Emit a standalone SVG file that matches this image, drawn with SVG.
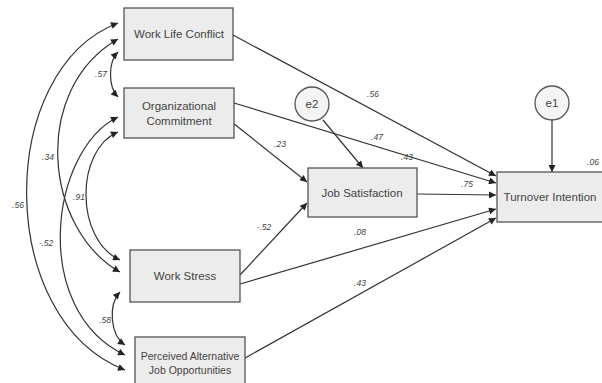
<svg xmlns="http://www.w3.org/2000/svg" width="602" height="383" viewBox="0 0 602 383">
<defs>
<marker id="ah" viewBox="0 0 10 10" refX="10" refY="5" markerWidth="10" markerHeight="7" markerUnits="userSpaceOnUse" orient="auto-start-reverse">
<path d="M0,0 L10,5 L0,10 z" fill="#222"/>
</marker>
<style>
.box{fill:#ececec;stroke:#555;stroke-width:1.3}
.err{fill:#f4f4f4;stroke:#555;stroke-width:1.3}
.t{font-family:"Liberation Sans",Arial,sans-serif;font-size:11.5px;fill:#444;text-anchor:middle}
.l{font-family:"Liberation Sans",Arial,sans-serif;font-size:8.5px;fill:#444;text-anchor:middle;font-style:italic}
.c{fill:none;stroke:#333;stroke-width:1.2}
.one{marker-end:url(#ah)}
.two{marker-start:url(#ah);marker-end:url(#ah)}
</style>
</defs>
<rect width="602" height="383" fill="#fff"/>
<g id="connectors">
<path class="c two" d="M118,52 C108,62 108,87 118,97"/>
<path class="c two" d="M118,23 C-5,70 -5,320 125,370"/>
<path class="c two" d="M118,39 C30,90 45,230 120,272"/>
<path class="c two" d="M118,117 C50,150 30,310 125,355"/>
<path class="c two" d="M118,132 C75,150 75,240 120,260"/>
<path class="c two" d="M120,292 C108,305 110,335 125,345"/>
<path class="c one" d="M233,35 L496,176"/>
<path class="c one" d="M234,103 L496,183"/>
<path class="c one" d="M233,123 L307,182"/>
<path class="c one" d="M240,275 L307,203"/>
<path class="c one" d="M417,194 L496,195"/>
<path class="c one" d="M240,284 L496,209"/>
<path class="c one" d="M245,358 L496,218"/>
<path class="c one" d="M323,120 L363,168"/>
<path class="c one" d="M552,120 L552,172"/>
<text class="l" x="101" y="77">.57</text>
<text class="l" x="48" y="160">.34</text>
<text class="l" x="18" y="208">.56</text>
<text class="l" x="79" y="200">.91</text>
<text class="l" x="46" y="246">-.52</text>
<text class="l" x="105" y="323">.58</text>
<text class="l" x="373" y="97">.56</text>
<text class="l" x="377" y="140">.47</text>
<text class="l" x="407" y="160">.43</text>
<text class="l" x="280" y="147">.23</text>
<text class="l" x="264" y="230">-.52</text>
<text class="l" x="467" y="187">.75</text>
<text class="l" x="360" y="235">.08</text>
<text class="l" x="360" y="286">.43</text>
<text class="l" x="593" y="165">.06</text>
</g>
<g id="wlc"><rect class="box" x="124" y="8" width="109" height="52"/><text class="t" x="179" y="38">Work Life Conflict</text></g>
<g id="oc"><rect class="box" x="124" y="88" width="110" height="50"/><text class="t" x="179" y="110">Organizational</text><text class="t" x="179" y="125">Commitment</text></g>
<g id="ws"><rect class="box" x="130" y="250" width="110" height="52"/><text class="t" x="185" y="280">Work Stress</text></g>
<g id="pajo"><rect class="box" x="135" y="337" width="110" height="49"/><text class="t" x="190" y="360" style="font-size:10.5px">Perceived Alternative</text><text class="t" x="190" y="374" style="font-size:10.5px">Job Opportunities</text></g>
<g id="js"><rect class="box" x="308" y="168" width="109" height="49"/><text class="t" x="362" y="197">Job Satisfaction</text></g>
<g id="ti"><rect class="box" x="497" y="172" width="112" height="50"/><text class="t" x="550" y="201">Turnover Intention</text></g>
<g id="e2"><circle class="err" cx="312" cy="104" r="17"/><text class="t" x="312" y="108">e2</text></g>
<g id="e1"><circle class="err" cx="552" cy="103" r="17"/><text class="t" x="552" y="107">e1</text></g>
</svg>
